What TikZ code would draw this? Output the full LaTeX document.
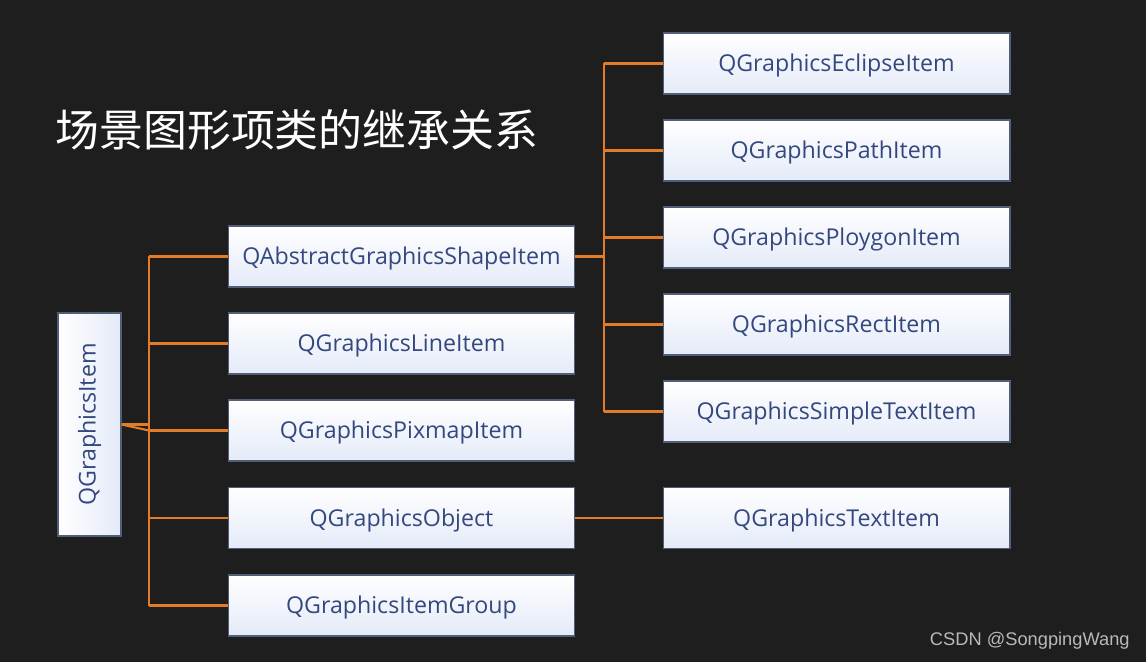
\documentclass[tikz,border=0pt]{standalone}
\usepackage{fontspec}
\setmainfont{Open Sans}
\newfontfamily\cjk{Noto Sans CJK SC}
\newfontfamily\wmfont{Liberation Sans}
\definecolor{bg}{RGB}{30,30,30}
\definecolor{ln}{RGB}{226,124,40}
\definecolor{txt}{RGB}{52,72,128}
\definecolor{bd}{RGB}{80,94,120}
\definecolor{boxbot}{RGB}{228,234,248}
\begin{document}
\begin{tikzpicture}[x=0.02cm,y=-0.02cm,
  cls/.style={draw=bd, line width=0.6pt, top color=white, bottom color=boxbot,
    minimum width=6.94cm, minimum height=1.22cm, inner sep=0pt,
    text height=12.4pt, text depth=3.2pt,
    text=txt, font=\fontsize{13.2}{15}\selectfont},
  conn/.style={draw=ln, line width=1.2pt}]
\fill[bg] (0,0) rectangle (1146,662);
\useasboundingbox (0,0) rectangle (1146,662);
\node[anchor=west, text=white, font=\cjk\fontsize{25}{30}\selectfont, inner sep=0pt] (title) at (55,130) {场景图形项类的继承关系};
% root
\node[draw=bd, line width=0.6pt, left color=white, right color=boxbot,
  minimum width=1.26cm, minimum height=4.46cm, inner sep=0pt] (root) at (89.5,424.5) {};
\node[rotate=90, text=txt, font=\fontsize{13.2}{15}\selectfont] (rootlabel) at (root.center) {QGraphicsItem};
% middle column
\node[cls] (abs) at (401.5,256.5) {QAbstractGraphicsShapeItem};
\node[cls] (line) at (401.5,343.5) {QGraphicsLineItem};
\node[cls] (pix) at (401.5,430.5) {QGraphicsPixmapItem};
\node[cls] (obj) at (401.5,518) {QGraphicsObject};
\node[cls] (grp) at (401.5,605.5) {QGraphicsItemGroup};
% right column
\node[cls] (ell) at (836.5,63.5) {QGraphicsEclipseItem};
\node[cls] (path) at (836.5,150.5) {QGraphicsPathItem};
\node[cls] (poly) at (836.5,237.5) {QGraphicsPloygonItem};
\node[cls] (rect) at (836.5,324.5) {QGraphicsRectItem};
\node[cls] (simp) at (836.5,411.5) {QGraphicsSimpleTextItem};
\node[cls] (text) at (836.5,518) {QGraphicsTextItem};
% left trunk
\coordinate (lt) at (149,256.5);
\coordinate (lb) at (149,605.5);
\coordinate (lm) at (149,424.5);
\coordinate (lm2) at (149,430.5);
\draw[conn] (lt) -- (lb);
\draw[conn] (root.east) -- (lm);
\draw[conn] (root.east) -- (lm2);
\foreach \n in {abs,line,pix,obj,grp}{
  \draw[conn] (\n.west) -- (\n.west -| lt);
}
% right trunk
\coordinate (rt) at (604,63.5);
\coordinate (rb) at (604,411.5);
\draw[conn] (rt) -- (rb);
\draw[conn] (abs.east) -- (abs.east -| rt);
\foreach \n in {ell,path,poly,rect,simp}{
  \draw[conn] (\n.west) -- (\n.west -| rt);
}
\draw[conn] (obj.east) -- (text.west);
% watermark
\node[anchor=east, text={rgb,255:red,185;green,185;blue,185}, font=\wmfont\fontsize{10.4}{12}\selectfont, inner sep=0pt] (wm) at (1130,641) {CSDN @SongpingWang};
\end{tikzpicture}
\end{document}
